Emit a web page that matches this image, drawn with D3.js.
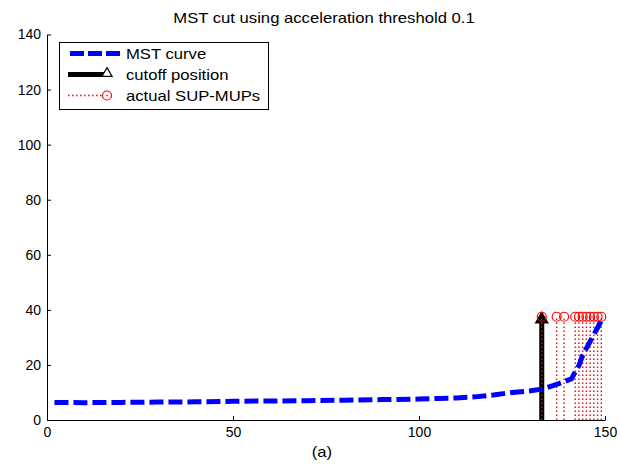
<!doctype html>
<html>
<head>
<meta charset="utf-8">
<script src="https://cdn.jsdelivr.net/npm/d3@7"></script>
<style>
  body { margin: 0; background: #fff; }
  svg text { font-family: "Liberation Sans", Arial, sans-serif; fill: #000; }
</style>
</head>
<body>
<svg id="chart" width="620" height="466"></svg>
<script>
// MST curve
var mstX = [2, 10, 20, 30, 40, 50, 60, 70, 80, 90, 100, 105, 110, 115, 120, 125, 130, 133, 136, 139, 141, 142, 143, 144, 145, 146, 147, 148, 149];
var mstY = [6.4, 6.3, 6.4, 6.5, 6.6, 6.8, 6.9, 7.0, 7.2, 7.4, 7.6, 7.8, 8.0, 8.4, 9.1, 10.0, 10.6, 11.2, 12.5, 13.9, 15.0, 17.5, 19.8, 23.5, 26, 28.5, 31, 33.5, 36];

// cutoff position
var cutoffX = 133;
var cutoffY = 38;

// actual SUP-MUPs
var supX = [133, 137, 139, 142, 143, 144, 145, 146, 147, 148, 149];
var supY = 37.5;

var xTicks = [0, 50, 100, 150];
var yTicks = [0, 20, 40, 60, 80, 100, 120, 140];
var legendLabels = ["MST curve", "cutoff position", "actual SUP-MUPs"];

var svg = d3.select("#chart");
var pLeft = 47, pRight = 605, pTop = 34.5, pBottom = 420;

var x = d3.scaleLinear().domain([0, 150]).range([pLeft, pRight]);
var y = d3.scaleLinear().domain([0, 140]).range([pBottom, pTop]);

// the picture is a bit wider than tall, so stretch text sideways
function widen(sel, k) {
  sel.each(function() {
    var w = this.getComputedTextLength();
    d3.select(this).attr("textLength", w * k).attr("lengthAdjust", "spacingAndGlyphs");
  });
}

svg.append("text")
    .attr("x", 324).attr("y", 22.5)
    .attr("text-anchor", "middle").style("font-size", "15px")
    .text("MST cut using acceleration threshold 0.1")
    .call(widen, 1.11);

// axes (MATLAB style: ticks inside, no box)
var gx = svg.append("g").attr("transform", "translate(0," + pBottom + ")")
    .call(d3.axisBottom(x).tickValues(xTicks).tickSizeInner(-4).tickSizeOuter(0).tickPadding(7.5));
var gy = svg.append("g").attr("transform", "translate(" + pLeft + ",0)")
    .call(d3.axisLeft(y).tickValues(yTicks).tickSizeInner(-4).tickSizeOuter(0).tickPadding(6));
[gx, gy].forEach(function(g) {
  g.select(".domain").attr("stroke", "#000");
  g.selectAll(".tick line").attr("stroke", "#000");
  g.selectAll("text").style("font-size", "14px").attr("fill", "#000")
    .style("font-family", "'Liberation Sans', Arial, sans-serif");
});

svg.append("text")
    .attr("x", 322).attr("y", 456.5)
    .attr("text-anchor", "middle").style("font-size", "15px")
    .text("(a)")
    .call(widen, 1.11);

// red dotted stems
function stems(g, xs) {
  g.selectAll("line").data(xs).enter().append("line")
      .attr("x1", function(d) { return x(d); }).attr("x2", function(d) { return x(d); })
      .attr("y1", y(0)).attr("y2", y(supY))
      .attr("stroke", "#ff0000").attr("stroke-width", 1.4).attr("stroke-dasharray", "1.5,2.5");
}
svg.append("g").call(stems, supX.slice(1));

// cutoff arrow
svg.append("line")
    .attr("x1", x(cutoffX)).attr("x2", x(cutoffX))
    .attr("y1", y(0)).attr("y2", y(cutoffY) + 4)
    .attr("stroke", "#000").attr("stroke-width", 5);
svg.append("path")
    .attr("d", d3.symbol().type(d3.symbolTriangle).size(60)())
    .attr("transform", "translate(" + x(cutoffX) + "," + (y(cutoffY) + 4) + ")")
    .attr("fill", "#000").attr("stroke", "#000").attr("stroke-width", 1.5);
// the stem at the cutoff shows through the thick line
svg.append("g").call(stems, supX.slice(0, 1));

// MST curve
var line = d3.line().x(function(d) { return x(d[0]); }).y(function(d) { return y(d[1]); });
svg.append("path")
    .datum(d3.zip(mstX, mstY))
    .attr("d", line)
    .attr("fill", "none").attr("stroke", "#0000ff").attr("stroke-width", 5)
    .attr("stroke-dasharray", "14,5");

// SUP-MUP markers
svg.append("g").selectAll("circle").data(supX).enter().append("circle")
    .attr("cx", function(d) { return x(d); }).attr("cy", y(supY)).attr("r", 4.5)
    .attr("fill", "none").attr("stroke", "#ff0000").attr("stroke-width", 1.2);

// legend
var lg = svg.append("g");
lg.append("rect").attr("x", 59.5).attr("y", 42.5).attr("width", 209).attr("height", 67)
    .attr("fill", "#fff").attr("stroke", "#000");
var rows = [53.5, 74.5, 95.5];
lg.append("line").attr("x1", 70).attr("x2", 120).attr("y1", rows[0]).attr("y2", rows[0])
    .attr("stroke", "#0000ff").attr("stroke-width", 5).attr("stroke-dasharray", "14,4");
lg.append("line").attr("x1", 68).attr("x2", 104).attr("y1", rows[1]).attr("y2", rows[1])
    .attr("stroke", "#000").attr("stroke-width", 5);
lg.append("path")
    .attr("d", d3.symbol().type(d3.symbolTriangle).size(45)())
    .attr("transform", "translate(107," + (rows[1] - 1) + ")")
    .attr("fill", "#fff").attr("stroke", "#000").attr("stroke-width", 1.2);
lg.append("line").attr("x1", 68).attr("x2", 102).attr("y1", rows[2]).attr("y2", rows[2])
    .attr("stroke", "#ff0000").attr("stroke-width", 1.4).attr("stroke-dasharray", "1.5,2.5");
lg.append("circle").attr("cx", 107).attr("cy", rows[2]).attr("r", 4.5)
    .attr("fill", "none").attr("stroke", "#ff0000").attr("stroke-width", 1.2);
lg.append("circle").attr("cx", 107).attr("cy", rows[2]).attr("r", 0.8)
    .attr("fill", "#ff0000");
lg.selectAll("text.lab").data(legendLabels).enter().append("text")
    .attr("class", "lab")
    .attr("x", 126)
    .attr("y", function(d, i) { return rows[i] + 5.3; })
    .style("font-size", "15px")
    .text(function(d) { return d; })
    .call(widen, 1.11);
</script>
</body>
</html>
